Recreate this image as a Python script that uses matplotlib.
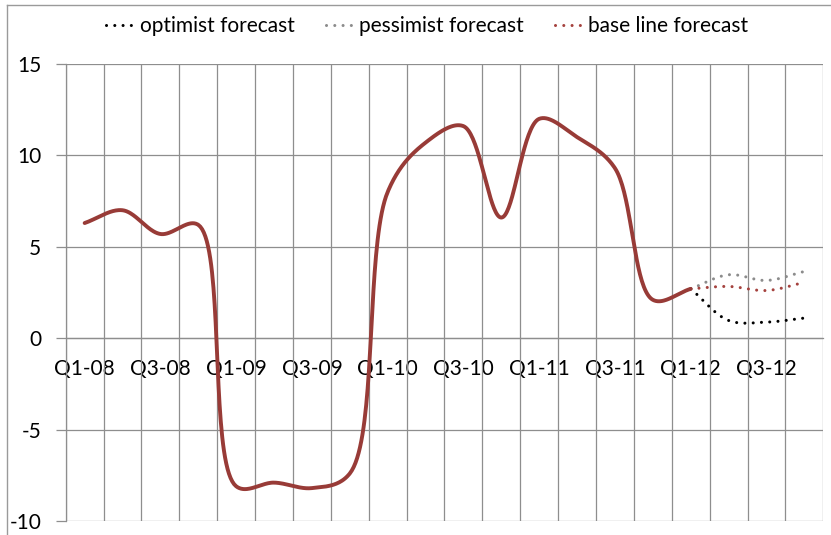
import numpy as np
import matplotlib
matplotlib.use('Agg')
import matplotlib.pyplot as plt
from matplotlib.lines import Line2D

plt.rcParams['font.family'] = ['Lato', 'DejaVu Sans']
plt.rcParams['axes.unicode_minus'] = False

# Quarterly growth, Q1-08 .. Q4-12
quarters = ['Q1-08', 'Q2-08', 'Q3-08', 'Q4-08',
            'Q1-09', 'Q2-09', 'Q3-09', 'Q4-09',
            'Q1-10', 'Q2-10', 'Q3-10', 'Q4-10',
            'Q1-11', 'Q2-11', 'Q3-11', 'Q4-11',
            'Q1-12', 'Q2-12', 'Q3-12', 'Q4-12']
actual = [6.3, 7.0, 5.7, 6.2, -8.1, -7.9, -8.2, -7.4, 8.0, 10.7,
          11.6, 6.6, 12.0, 11.0, 9.3, 2.1, 2.7]
# forecasts run from Q1-12 to Q4-12
forecast_start = 16
optimist = [2.7, 0.97, 0.88, 1.1]
pessimist = [2.7, 3.47, 3.16, 3.65]
baseline = [2.7, 2.83, 2.61, 3.05]
yticks = [-10, -5, 0, 5, 10, 15]

GRID = '#8e8e8e'
MAIN = '#983b37'
DOTTED = (0, (0.01, 2.7))
FS = 15


def catmull_rom(pts, n=40, alpha=0.5):
    # centripetal Catmull-Rom through pts (pixel space)
    p = np.vstack([2 * pts[0] - pts[1], pts, 2 * pts[-1] - pts[-2]])
    out = []
    for i in range(len(p) - 3):
        p0, p1, p2, p3 = p[i:i + 4]
        t0 = 0.0
        t1 = t0 + np.linalg.norm(p1 - p0) ** alpha
        t2 = t1 + np.linalg.norm(p2 - p1) ** alpha
        t3 = t2 + np.linalg.norm(p3 - p2) ** alpha
        t = np.linspace(t1, t2, n)[:, None]
        a1 = (t1 - t) / (t1 - t0) * p0 + (t - t0) / (t1 - t0) * p1
        a2 = (t2 - t) / (t2 - t1) * p1 + (t - t1) / (t2 - t1) * p2
        a3 = (t3 - t) / (t3 - t2) * p2 + (t - t2) / (t3 - t2) * p3
        b1 = (t2 - t) / (t2 - t0) * a1 + (t - t0) / (t2 - t0) * a2
        b2 = (t3 - t) / (t3 - t1) * a2 + (t - t1) / (t3 - t1) * a3
        c = (t2 - t) / (t2 - t1) * b1 + (t - t1) / (t2 - t1) * b2
        out.append(c if i == 0 else c[1:])
    return np.vstack(out)


def smooth_plot(ax, x, y, **kw):
    pix = ax.transData.transform(np.column_stack([x, y]))
    curve = ax.transData.inverted().transform(catmull_rom(pix))
    return ax.plot(curve[:, 0], curve[:, 1], **kw)


W, H = 831, 535
fig = plt.figure(figsize=(W / 100, H / 100), dpi=100, facecolor='white')
ax = fig.add_axes([65.7 / W, 1 - 521 / H, (823.3 - 65.7) / W, (521 - 64) / H])

n = len(quarters)
ax.set_xlim(-0.5, n - 0.5)
ax.set_ylim(-10, 15)

# chart area border
bx, by = 7 / W, 1 - 5 / H
fig.add_artist(Line2D([bx, bx], [0, by], transform=fig.transFigure, color='#9a9a9a', lw=1))
fig.add_artist(Line2D([bx, 1], [by, by], transform=fig.transFigure, color='#9a9a9a', lw=1))

# grid
ax.set_xticks(np.arange(-0.5, n, 1), minor=True)
ax.set_xticks(np.arange(n))
ax.set_xticklabels([q if i % 2 == 0 else '' for i, q in enumerate(quarters)])
ax.set_yticks(yticks)
ax.set_yticklabels([str(v) for v in yticks])
ax.grid(True, which='minor', axis='x', color=GRID, lw=0.9)
ax.grid(True, which='major', axis='y', color=GRID, lw=0.9)
ax.set_axisbelow(True)

for s in ['top', 'right']:
    ax.spines[s].set_visible(False)
ax.spines['left'].set_color(GRID)
ax.spines['left'].set_linewidth(0.9)
ax.spines['bottom'].set_position(('data', 0))
ax.spines['bottom'].set_color(GRID)
ax.spines['bottom'].set_linewidth(0.9)

ax.tick_params(axis='x', which='both', length=0, pad=15, labelsize=FS)
ax.tick_params(axis='y', length=7, color=GRID, width=0.9, pad=10.5, labelsize=FS)

xa = np.arange(len(actual))
smooth_plot(ax, xa, actual, color=MAIN, lw=2.8, solid_capstyle='round', zorder=4)

xf = np.arange(forecast_start, forecast_start + len(optimist))
series = [
    ('optimist forecast', optimist, '#000000'),
    ('pessimist forecast', pessimist, '#8c8c8c'),
    ('base line forecast', baseline, '#a5423e'),
]
handles = []
for label, vals, col in series:
    smooth_plot(ax, xf, vals, color=col, lw=2.2, linestyle=DOTTED,
                dash_capstyle='round', zorder=3)
    handles.append(Line2D([], [], color=col, lw=2.2, linestyle=DOTTED,
                          dash_capstyle='round', label=label))

fig.legend(handles=handles, loc='center', bbox_to_anchor=(427.5 / W, 1 - 26 / H),
           ncol=3, frameon=False, fontsize=FS, handlelength=1.25,
           handletextpad=0.35, columnspacing=1.5)

plt.savefig('out.png', dpi=100, facecolor='white')
